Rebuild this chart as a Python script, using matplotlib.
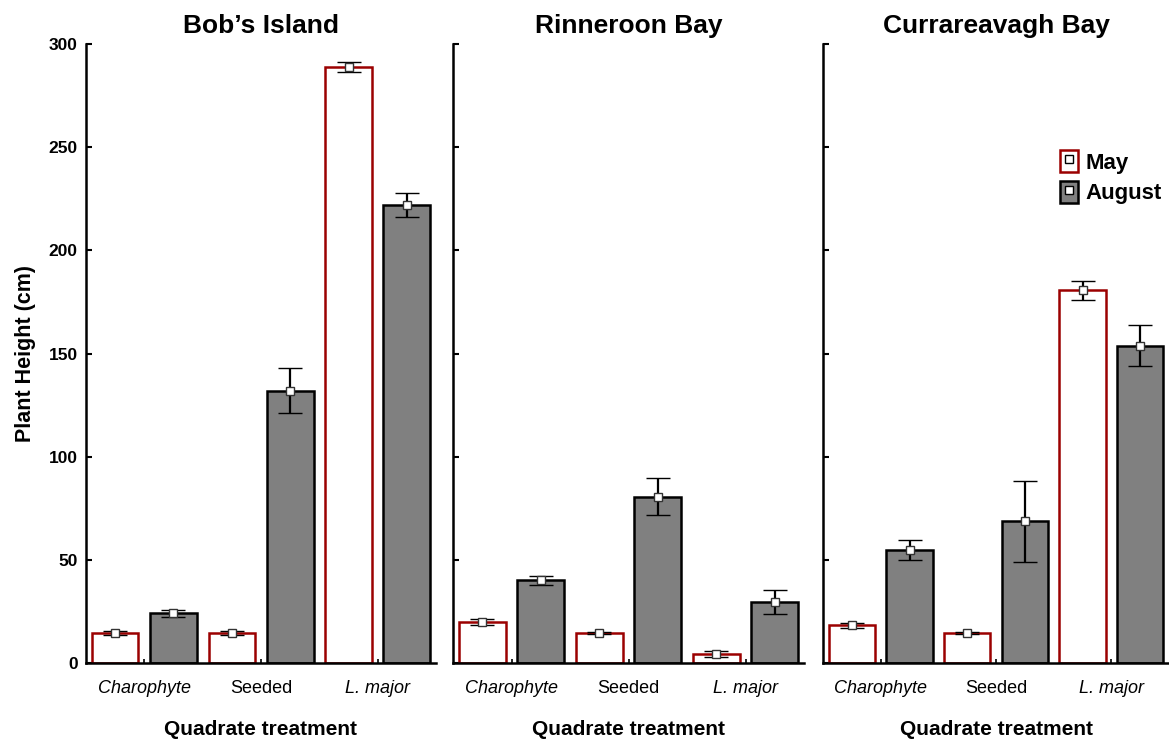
import matplotlib
matplotlib.use("Agg")
import matplotlib.pyplot as plt
from matplotlib.lines import Line2D
from matplotlib.patches import Patch
from matplotlib.legend_handler import HandlerTuple
import numpy as np

# Plant height (cm) by site, quadrate treatment and sampling month
sites = ["Bob\u2019s Island", "Rinneroon Bay", "Currareavagh Bay"]
treatments = ["Charophyte", "Seeded", "L. major"]
treatment_italic = [True, False, True]
months = ["May", "August"]

may_mean = {
    "Bob\u2019s Island": [14.5, 14.5, 289.0],
    "Rinneroon Bay": [20.0, 14.5, 4.5],
    "Currareavagh Bay": [18.2, 14.5, 180.6],
}
may_err = {
    "Bob\u2019s Island": [1.0, 0.8, 2.5],
    "Rinneroon Bay": [1.5, 0.6, 1.5],
    "Currareavagh Bay": [1.0, 0.6, 4.6],
}
aug_mean = {
    "Bob\u2019s Island": [24.0, 132.0, 222.0],
    "Rinneroon Bay": [40.0, 80.6, 29.6],
    "Currareavagh Bay": [54.6, 68.6, 153.8],
}
aug_err = {
    "Bob\u2019s Island": [1.5, 11.0, 6.0],
    "Rinneroon Bay": [2.3, 9.0, 6.0],
    "Currareavagh Bay": [4.8, 19.7, 9.8],
}

y_ticks = [0, 50, 100, 150, 200, 250, 300]

font = "Liberation Sans"
may_edge = "#9b0000"
aug_fill = "#808080"

fig = plt.figure(figsize=(11.69, 7.40), dpi=100)
W, H = 1169, 740
panel_px = [(86, 436), (453, 804), (823, 1169)]
top_px, bot_px = 44, 663

x = np.arange(len(treatments))
bw = 0.4
off = 0.25

axes = []
for i, site in enumerate(sites):
    l, r = panel_px[i]
    ax = fig.add_axes([l / W, (H - bot_px) / H, (r - l) / W, (bot_px - top_px) / H])
    axes.append(ax)

    ax.bar(x - off, may_mean[site], width=bw, color="white", edgecolor=may_edge,
           linewidth=1.8, zorder=2)
    ax.bar(x + off, aug_mean[site], width=bw, color=aug_fill, edgecolor="black",
           linewidth=1.8, zorder=2)
    for xs, m, e in ((x - off, may_mean[site], may_err[site]),
                     (x + off, aug_mean[site], aug_err[site])):
        ax.errorbar(xs, m, yerr=e, fmt="s", ms=6, mfc="white", mec="#333333",
                    mew=1.0, ecolor="black", elinewidth=1.6, capsize=8.5,
                    capthick=1.8, zorder=3)

    ax.set_xlim(-0.5, 2.5)
    ax.set_ylim(0, 300)
    ax.spines["top"].set_visible(False)
    ax.spines["right"].set_visible(False)
    for s in ("left", "bottom"):
        ax.spines[s].set_linewidth(1.8)

    ax.set_yticks(y_ticks)
    ax.tick_params(axis="y", direction="in", length=4, width=1.5)
    if i == 0:
        ax.set_yticklabels([str(v) for v in y_ticks], fontfamily=font,
                           fontweight="bold", fontsize=12.5)
        ax.tick_params(axis="y", pad=6)
        ax.set_ylabel("Plant Height (cm)", fontfamily=font, fontweight="bold",
                      fontsize=15.5, labelpad=9)
    else:
        ax.set_yticklabels([])

    ax.set_xticks(x)
    ax.set_xticklabels(treatments, fontfamily=font, fontsize=13)
    for lab, it in zip(ax.get_xticklabels(), treatment_italic):
        lab.set_fontstyle("italic" if it else "normal")
    ax.tick_params(axis="x", direction="in", length=3, width=1.2, pad=12)
    ax.set_xlabel("Quadrate treatment", fontfamily=font, fontweight="bold",
                  fontsize=15, labelpad=17)
    ax.set_title(site, fontfamily=font, fontweight="bold", fontsize=19, pad=8)

marker = Line2D([], [], marker="s", ms=5.5, mfc="white", mec="black", ls="none")
handles = [
    (Patch(facecolor="white", edgecolor=may_edge, linewidth=1.8), marker),
    (Patch(facecolor=aug_fill, edgecolor="black", linewidth=1.8), marker),
]
leg = axes[2].legend(handles, months, loc="upper left", bbox_to_anchor=(0.658, 0.843),
                     frameon=False, handlelength=0.85, handleheight=1.15,
                     handletextpad=0.3, labelspacing=0.32, borderaxespad=0,
                     prop={"family": font, "weight": "bold", "size": 16},
                     handler_map={tuple: HandlerTuple(ndivide=1, pad=0)})

fig.savefig("out.png", dpi=100)
